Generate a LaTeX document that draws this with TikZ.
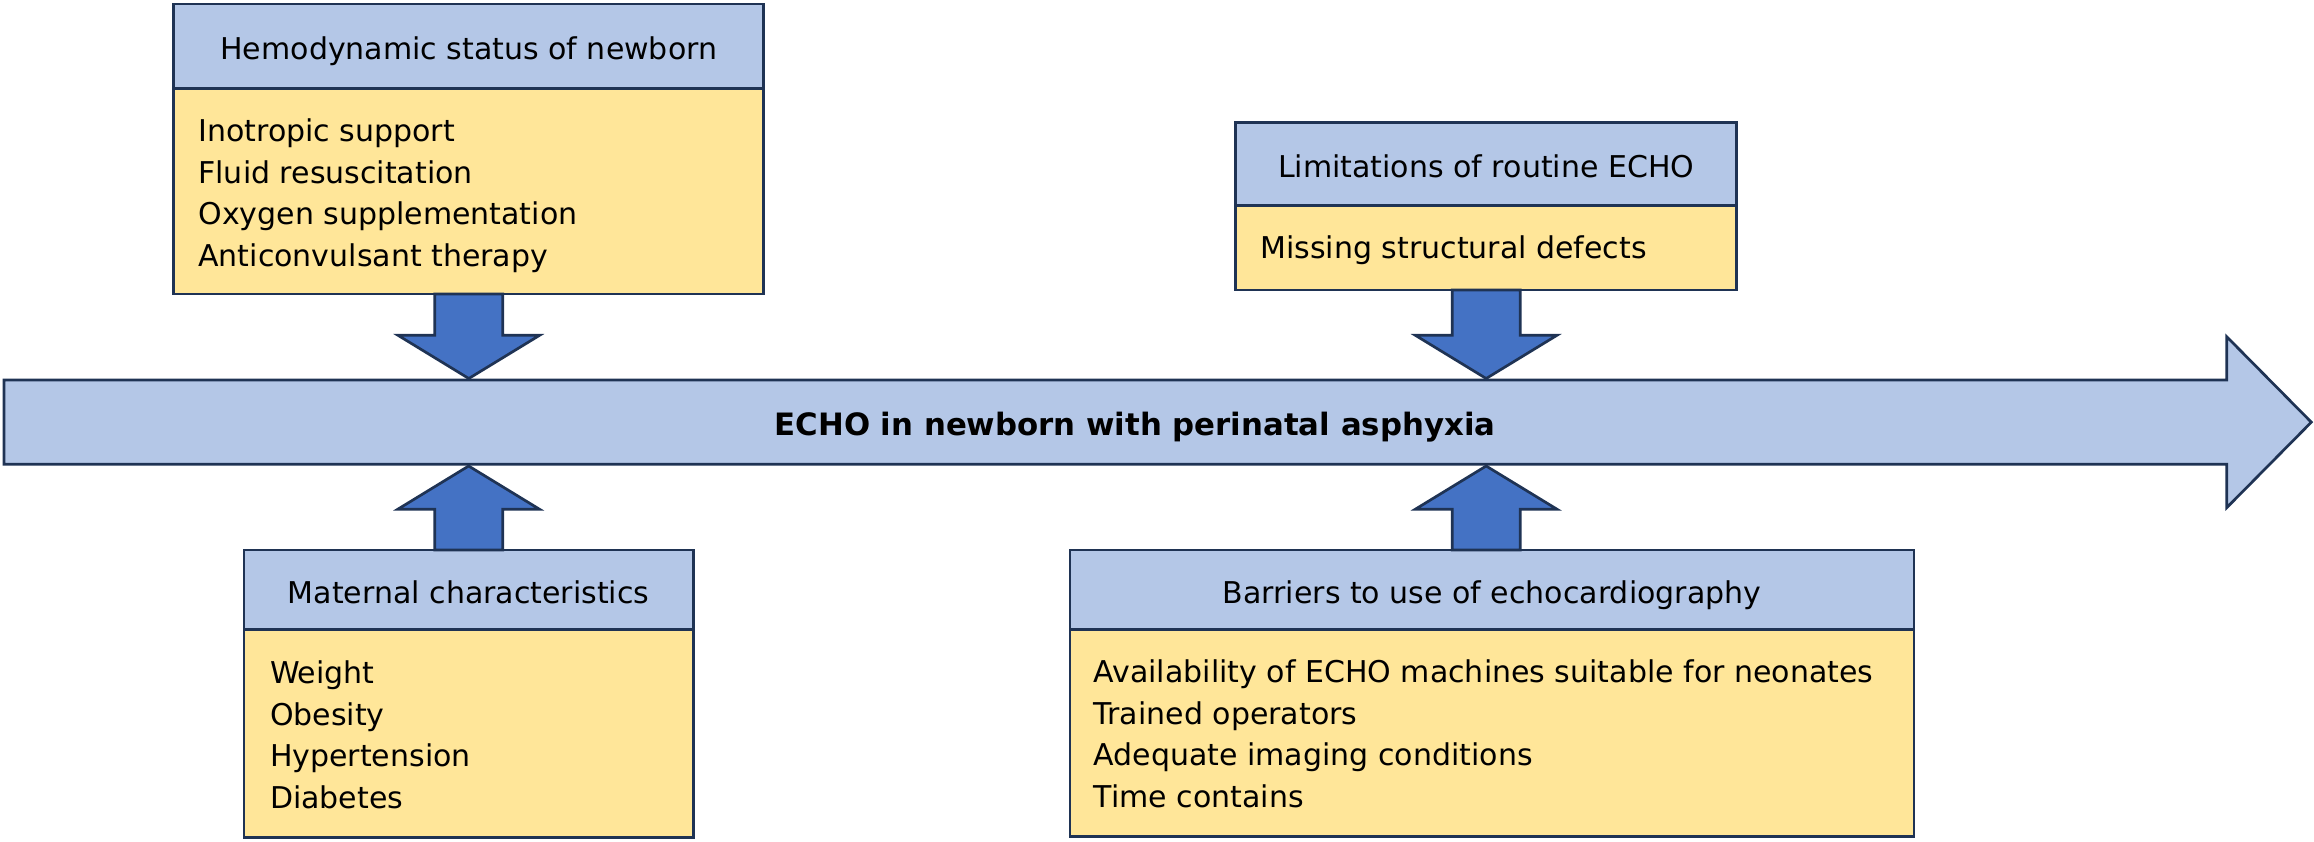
\documentclass[tikz,border=0pt]{standalone}
\usepackage{fontspec}
\setmainfont{DejaVu Sans}
\usetikzlibrary{calc}
\definecolor{hdrfill}{HTML}{B4C7E7}
\definecolor{bodyfill}{HTML}{FFE699}
\definecolor{edgecol}{HTML}{1F3354}
\definecolor{arrowfill}{HTML}{4472C4}
\newcommand\blkarrow[2]{%
  \draw[blockarrow] let \p1=(#1), \p2=(#2), \p3=($(#2)!21.6pt!(#1)$) in
    (\x1-17pt,\y1) -- (\x1+17pt,\y1) -- (\x1+17pt,\y3) -- (\x1+35.4pt,\y3)
    -- (\x1,\y2) -- (\x1-35.4pt,\y3) -- (\x1-17pt,\y3) -- cycle;}
\begin{document}
\begin{tikzpicture}[x=0.5pt,y=-0.5pt,
  every node/.style={inner sep=0pt,outer sep=0pt},
  hdrbox/.style={draw=edgecol,fill=hdrfill,line width=1.35pt,anchor=north west,
    font=\fontsize{15}{18}\selectfont,text height=13.5pt,text depth=0pt},
  bodybox/.style={draw=edgecol,fill=bodyfill,line width=1.35pt,anchor=north west},
  itemlist/.style={anchor=north west,align=left,font=\fontsize{15}{20.75}\selectfont},
  mainarrow/.style={draw=edgecol,fill=hdrfill,line width=1.35pt},
  blockarrow/.style={draw=edgecol,fill=arrowfill,line width=1.35pt},
  mainlabel/.style={font=\fontsize{15.4}{18}\selectfont\bfseries,text height=13.5pt,text depth=0pt}]
\useasboundingbox (0,0) rectangle (2314,841);

% main arrow
\draw[mainarrow] (4,380) -- (2226.7,380) -- (2226.7,336.7) -- (2311.3,422.2)
  -- (2226.7,507.7) -- (2226.7,464.3) -- (4,464.3) -- cycle;
\node[mainlabel] (mainlbl) at (1135,422.2) {ECHO in newborn with perinatal asphyxia};
\coordinate (mtop) at (0,378.5);
\coordinate (mbot) at (0,466);

% box 1
\node[hdrbox,minimum width=295pt,minimum height=42.15pt] (b1h) at (173.8,4) {Hemodynamic status of newborn};
\node[bodybox,minimum width=295pt,minimum height=102.85pt] (b1b) at (b1h.south west) {};
\node[itemlist] (b1t) at (198.4,112.6) {\strut Inotropic support\\Fluid resuscitation\\Oxygen supplementation\\Anticonvulsant therapy};

% box 2
\node[hdrbox,minimum width=250.35pt,minimum height=41.5pt] (b2h) at (1235.8,122.7) {Limitations of routine ECHO};
\node[bodybox,minimum width=250.35pt,minimum height=42.15pt] (b2b) at (b2h.south west) {};
\node[itemlist] (b2t) at (1260.4,229.3) {\strut Missing structural defects};

% box 3
\node[hdrbox,minimum width=224.65pt,minimum height=39.65pt] (b3h) at (244,550) {Maternal characteristics};
\node[bodybox,minimum width=224.65pt,minimum height=104pt] (b3b) at (b3h.south west) {};
\node[itemlist] (b3t) at (270,654.5) {\strut Weight\\Obesity\\Hypertension\\Diabetes};

% box 4
\node[hdrbox,minimum width=422pt,minimum height=39.65pt] (b4h) at (1070,550) {Barriers to use of echocardiography};
\node[bodybox,minimum width=422pt,minimum height=103.7pt] (b4b) at (b4h.south west) {};
\node[itemlist] (b4t) at (1093.7,653.5) {\strut Availability of ECHO machines suitable for neonates\\Trained operators\\Adequate imaging conditions\\Time contains};

% block arrows
\coordinate (tip1) at (b1b.south |- mtop);
\coordinate (tip2) at (b2b.south |- mtop);
\coordinate (tip3) at (b3h.north |- mbot);
\coordinate (tip4) at (tip2 |- mbot);
\coordinate (s4) at (b4h.north -| tip2);
\blkarrow{b1b.south}{tip1}
\blkarrow{b2b.south}{tip2}
\blkarrow{b3h.north}{tip3}
\blkarrow{s4}{tip4}
\end{tikzpicture}
\end{document}
